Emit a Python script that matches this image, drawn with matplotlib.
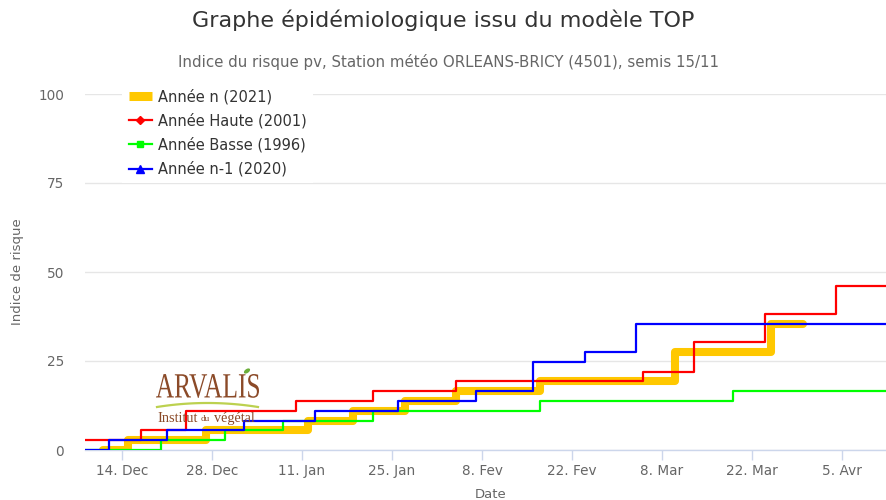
import numpy as np
import pandas as pd
import matplotlib
matplotlib.use("Agg")
import matplotlib.pyplot as plt
from matplotlib.lines import Line2D
from matplotlib.textpath import TextPath
from matplotlib.patches import PathPatch, Ellipse
from matplotlib.font_manager import FontProperties
from matplotlib.transforms import Affine2D, IdentityTransform

# ---------------- data ----------------
series_names = ["Année n (2021)", "Année Haute (2001)", "Année Basse (1996)", "Année n-1 (2020)"]
series_colors = ["#FFC800", "#FF0000", "#00FF00", "#0000FF"]

yellow_dates = ["2020-12-11", "2020-12-15", "2020-12-27", "2021-01-12", "2021-01-19", "2021-01-27",
                "2021-02-04", "2021-02-17", "2021-03-10", "2021-03-25", "2021-03-30"]
yellow_vals = [0, 2.75, 5.5, 8.25, 11, 13.75, 16.5, 19.25, 27.5, 35.5, 35.5]

red_dates = ["2020-12-08", "2020-12-17", "2020-12-24", "2021-01-10", "2021-01-22", "2021-02-04",
             "2021-03-05", "2021-03-13", "2021-03-24", "2021-04-04", "2021-04-12"]
red_vals = [2.75, 5.5, 11, 13.75, 16.5, 19.25, 22, 30.25, 38.25, 46, 46]

green_dates = ["2020-12-08", "2020-12-20", "2020-12-30", "2021-01-08", "2021-01-22", "2021-02-17",
               "2021-03-19", "2021-04-12"]
green_vals = [0, 2.75, 5.5, 8.25, 11, 13.75, 16.5, 16.5]

blue_dates = ["2020-12-08", "2020-12-12", "2020-12-21", "2021-01-02", "2021-01-13", "2021-01-26",
              "2021-02-07", "2021-02-16", "2021-02-24", "2021-03-04", "2021-04-12"]
blue_vals = [0, 2.75, 5.5, 8.25, 11, 13.75, 16.5, 24.75, 27.5, 35.5, 35.5]

tick_dates = ["2020-12-14", "2020-12-28", "2021-01-11", "2021-01-25", "2021-02-08",
              "2021-02-22", "2021-03-08", "2021-03-22", "2021-04-05"]
tick_labels = ["14. Dec", "28. Dec", "11. Jan", "25. Jan", "8. Fev", "22. Fev", "8. Mar", "22. Mar", "5. Avr"]
y_ticks = [0, 25, 50, 75, 100]

title = "Graphe épidémiologique issu du modèle TOP"
subtitle = "Indice du risque pv, Station météo ORLEANS-BRICY (4501), semis 15/11"

# ---------------- figure ----------------
W, H = 886, 500
fig = plt.figure(figsize=(W / 100, H / 100), dpi=100)
ax = fig.add_axes([85 / W, 50 / H, (W - 85) / W, (450 - 94) / H])

grid_c = "#e6e6e6"
axis_c = "#ccd6eb"
lab_c = "#666666"

# ARVALIS logo (drawn beneath the series)
def fitted_text(s, x0, x1, ytop, ybot, color, family="Liberation Serif", z=1):
    tp = TextPath((0, 0), s, size=100, prop=FontProperties(family=family))
    ext = tp.get_extents()
    sx = (x1 - x0) / ext.width
    sy = (ybot - ytop) / ext.height
    tr = Affine2D().translate(-ext.x0, -ext.y0).scale(sx, sy).translate(x0, H - ybot)
    p = PathPatch(tr.transform_path(tp), facecolor=color, edgecolor="none",
                  transform=IdentityTransform(), zorder=z)
    fig.patches.append(p)

brown = "#8b4a28"
fitted_text("ARVALIS", 156, 259, 374, 398, brown)
xs = np.linspace(157, 258, 60)
ys = 407 - 4 * (1 - ((xs - 207.5) / 50.5) ** 2)
fig.lines.append(Line2D(xs, H - ys, color="#b5cc3c", lw=1.6, transform=IdentityTransform(), alpha=0.9))
fig.patches.append(Ellipse((247, H - 371), 7, 4, angle=35, facecolor="#6cae3a", edgecolor="none",
                           transform=IdentityTransform()))
fig.text(157 / W, 1 - 422 / H, "Institut", fontsize=10.3, color=brown, family="Liberation Serif",
         ha="left", va="baseline")
fig.text(201 / W, 1 - 421 / H, "du", fontsize=6.5, color=brown, family="Liberation Serif",
         ha="left", va="baseline")
fig.text(214 / W, 1 - 422 / H, "végétal", fontsize=10.3, color=brown, family="Liberation Serif",
         ha="left", va="baseline")

ax.patch.set_alpha(0)

def to_dt(lst):
    return pd.to_datetime(lst)

data = [(yellow_dates, yellow_vals), (red_dates, red_vals), (green_dates, green_vals), (blue_dates, blue_vals)]
widths = [5.8, 1.6, 1.6, 1.6]
for (d, v), c, lw, name in zip(data, series_colors, widths, series_names):
    ax.step(to_dt(d), v, where="post", color=c, lw=lw, solid_joinstyle="round",
            solid_capstyle="round", label=name, zorder=3)

ax.set_xlim(pd.Timestamp("2020-12-08 06:00"), pd.Timestamp("2021-04-11 20:00"))
ax.set_ylim(0, 100)
ax.set_yticks(y_ticks)
ax.set_yticklabels([str(t) for t in y_ticks])
ax.set_xticks(to_dt(tick_dates))
ax.set_xticklabels(tick_labels)

for s in ["top", "right", "left"]:
    ax.spines[s].set_visible(False)
ax.spines["bottom"].set_color(axis_c)
ax.spines["bottom"].set_linewidth(1)
ax.grid(axis="y", color=grid_c, lw=1)
ax.set_axisbelow(True)
ax.tick_params(axis="y", length=0, pad=15, labelsize=9.8, labelcolor=lab_c)
ax.tick_params(axis="x", length=7.2, width=1, color=axis_c, pad=3, labelsize=9.8, labelcolor=lab_c)

ax.set_ylabel("Indice de risque", fontsize=9.5, color=lab_c)
ax.yaxis.set_label_coords(-(85 - 24) / (W - 85), 0.5)
ax.set_xlabel("Date", fontsize=9.5, color=lab_c, va="center")
ax.xaxis.set_label_coords((491 - 85) / (W - 85), -(494 - 450) / 356)

fig.text(443 / W, 1 - 20 / H, title, fontsize=16, color="#333333", ha="center", va="center")
fig.text(448 / W, 1 - 62 / H, subtitle, fontsize=10.8, color=lab_c, ha="center", va="center")

handles = [
    Line2D([], [], color=series_colors[0], lw=6.5, solid_capstyle="butt"),
    Line2D([], [], color=series_colors[1], lw=1.6, marker="D", markersize=4.5),
    Line2D([], [], color=series_colors[2], lw=1.6, marker="s", markersize=5),
    Line2D([], [], color=series_colors[3], lw=1.6, marker="^", markersize=6),
]
leg = ax.legend(handles, series_names, loc="upper left", bbox_to_anchor=(122 / W, 1 - 82 / H),
                bbox_transform=fig.transFigure, borderaxespad=0, borderpad=0.45,
                fontsize=10.5, handlelength=1.6, handletextpad=0.4, labelspacing=0.6,
                frameon=True, fancybox=False, framealpha=1, facecolor="white", edgecolor="none")
for t in leg.get_texts():
    t.set_color("#333333")

fig.savefig("out.png", dpi=100)
